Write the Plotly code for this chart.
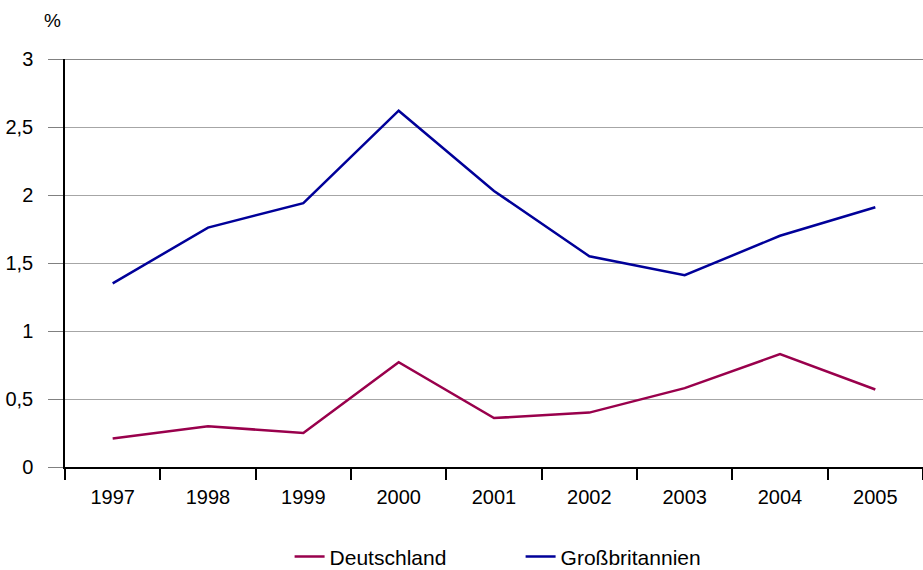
import plotly.graph_objects as go

years = ["1997", "1998", "1999", "2000", "2001", "2002", "2003", "2004", "2005"]
deutschland = [0.21, 0.30, 0.25, 0.77, 0.36, 0.40, 0.58, 0.83, 0.57]
grossbritannien = [1.35, 1.76, 1.94, 2.62, 2.03, 1.55, 1.41, 1.70, 1.91]
y_ticks = [0, 0.5, 1, 1.5, 2, 2.5, 3]
y_labels = ["0", "0,5", "1", "1,5", "2", "2,5", "3"]

FONT = "Liberation Sans, Arial, sans-serif"

fig = go.Figure()
fig.add_trace(go.Scatter(x=years, y=deutschland, mode="lines", name="Deutschland",
                         line={"color": "#99004C", "width": 2.5}))
fig.add_trace(go.Scatter(x=years, y=grossbritannien, mode="lines", name="Großbritannien",
                         line={"color": "#000099", "width": 2.5}))

fig.update_layout(
    width=923, height=570,
    margin={"l": 65, "r": 0, "t": 59, "b": 103},
    paper_bgcolor="white", plot_bgcolor="white",
    font={"family": FONT, "size": 20, "color": "black"},
    showlegend=True,
    legend={"orientation": "h", "x": 0.531, "xanchor": "center",
            "yref": "container", "y": 0.023, "yanchor": "middle",
            "font": {"size": 21}, "entrywidth": 186, "tracegroupgap": 0},
    xaxis={"type": "category", "tickson": "boundaries", "ticks": "outside", "ticklen": 11,
           "tickcolor": "black", "tickwidth": 1.5, "showgrid": False, "showline": True,
           "linecolor": "black", "linewidth": 1.5, "range": [-0.5, 8.5],
           "ticklabelstandoff": 11, "automargin": False},
    yaxis={"range": [0, 3], "tickvals": y_ticks, "ticktext": y_labels, "ticks": "outside",
           "ticklen": 15, "tickcolor": "#808080", "showgrid": True, "gridcolor": "#A6A6A6",
           "gridwidth": 1, "showline": True, "linecolor": "black", "linewidth": 1.5,
           "zeroline": False, "ticklabelstandoff": 11, "automargin": False},
    annotations=[{"text": "%", "xref": "paper", "yref": "paper", "x": 0, "y": 1.0,
                  "xshift": -2, "yshift": 39, "xanchor": "right", "yanchor": "middle",
                  "showarrow": False, "font": {"size": 19}}],
)
# darker top border line at 3
fig.add_shape(type="line", xref="paper", yref="y", x0=0, x1=1, y0=3, y1=3,
              line={"color": "#606060", "width": 1.5})

# drop the browser's default body margin so the figure sits at the page origin
fig.write_html("out.html", config={"displayModeBar": False},
               post_script="document.body.style.margin = '0';")
